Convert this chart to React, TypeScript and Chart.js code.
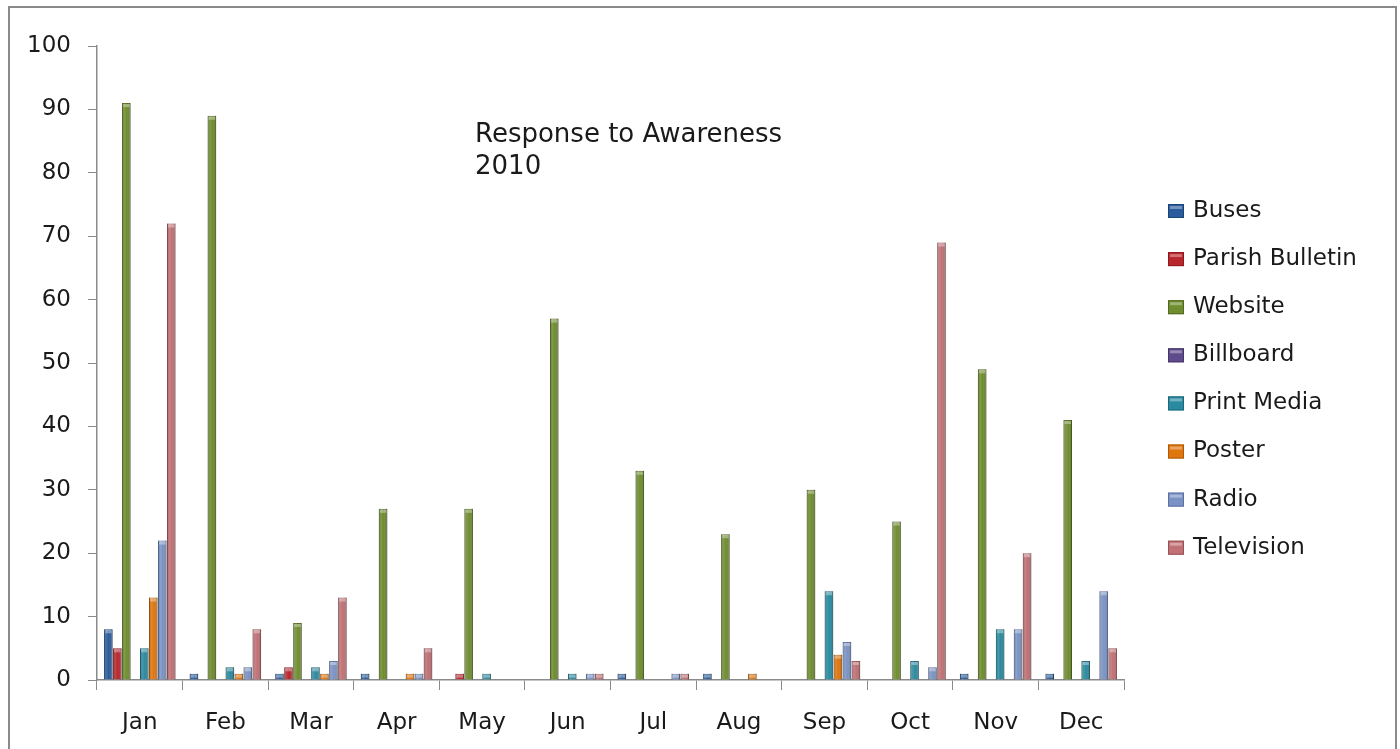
import React, { useEffect, useRef } from "react";
import { Chart, registerables } from "chart.js";

Chart.register(...registerables);

const months = ["Jan", "Feb", "Mar", "Apr", "May", "Jun", "Jul", "Aug", "Sep", "Oct", "Nov", "Dec"];
const seriesNames = ["Buses", "Parish Bulletin", "Website", "Billboard", "Print Media", "Poster", "Radio", "Television"];
const buses = [8, 1, 1, 1, 0, 0, 1, 1, 0, 0, 1, 1];
const parishBulletin = [5, 0, 2, 0, 1, 0, 0, 0, 0, 0, 0, 0];
const website = [91, 89, 9, 27, 27, 57, 33, 23, 30, 25, 49, 41];
const billboard = [0, 0, 0, 0, 0, 0, 0, 0, 0, 0, 0, 0];
const printMedia = [5, 2, 2, 0, 1, 1, 0, 0, 14, 3, 8, 3];
const poster = [13, 1, 1, 1, 0, 0, 0, 1, 4, 0, 0, 0];
const radio = [22, 2, 3, 1, 0, 1, 1, 0, 6, 2, 8, 14];
const television = [72, 8, 13, 5, 0, 1, 1, 0, 3, 69, 20, 5];
const seriesColors = ["#2a5b9c", "#b9262c", "#6f8d2e", "#5f4a8b", "#2a8ba0", "#e0760e", "#7b93c4", "#c07175"];
const seriesBorders = ["#1c4478", "#8e1a1f", "#536b20", "#46356a", "#1d6878", "#b05a08", "#5a72a3", "#9a5155"];
const titleLines = ["Response to Awareness", "2010"];
const yMin = 0;
const yMax = 100;
const yStep = 10;

const FONT = "'DejaVu Sans', sans-serif";

const framePlugin = {
  id: "frame",
  beforeDraw(chart: any) {
    const { ctx, height } = chart;
    ctx.save();
    ctx.fillStyle = "#ffffff";
    ctx.fillRect(0, 0, chart.width, height);
    ctx.strokeStyle = "#8a8a8a";
    ctx.lineWidth = 2;
    ctx.strokeRect(9, 7, 1387, height + 10);
    ctx.restore();
  },
};

const barShadePlugin = {
  id: "barShade",
  afterDatasetsDraw(chart: any) {
    const { ctx } = chart;
    ctx.save();
    chart.data.datasets.forEach((ds: any, di: number) => {
      const meta = chart.getDatasetMeta(di);
      meta.data.forEach((bar: any) => {
        const { x, y, base, width } = bar.getProps(["x", "y", "base", "width"], true);
        const h = base - y;
        if (h <= 0.5) return;
        const left = x - width / 2;
        const g = ctx.createLinearGradient(left, 0, left + width, 0);
        g.addColorStop(0, "rgba(0,0,0,0.25)");
        g.addColorStop(0.3, "rgba(255,255,255,0.12)");
        g.addColorStop(0.55, "rgba(255,255,255,0.0)");
        g.addColorStop(1, "rgba(0,0,0,0.3)");
        ctx.fillStyle = g;
        ctx.fillRect(left, y, width, h);
        ctx.fillStyle = "rgba(255,255,255,0.35)";
        ctx.fillRect(left + 1, y + 1, width - 2, Math.min(3, h - 1));
      });
    });
    ctx.restore();
  },
};

const titlePlugin = {
  id: "innerTitle",
  afterDraw(chart: any) {
    const { ctx } = chart;
    ctx.save();
    ctx.fillStyle = "#1a1a1a";
    ctx.font = `26px ${FONT}`;
    ctx.textAlign = "left";
    ctx.textBaseline = "alphabetic";
    titleLines.forEach((line, i) => {
      ctx.fillText(line, 475, 142 + i * 32);
    });
    ctx.restore();
  },
};

const legendPlugin = {
  id: "sideLegend",
  afterDraw(chart: any) {
    const { ctx } = chart;
    ctx.save();
    ctx.font = `23px ${FONT}`;
    ctx.textAlign = "left";
    ctx.textBaseline = "middle";
    chart.data.datasets.forEach((ds: any, i: number) => {
      const cy = 211 + i * 48.1;
      ctx.fillStyle = ds.backgroundColor;
      ctx.fillRect(1168, cy - 7, 16, 14);
      ctx.strokeStyle = ds.borderColor;
      ctx.lineWidth = 1;
      ctx.strokeRect(1168.5, cy - 6.5, 15, 13);
      ctx.fillStyle = "rgba(255,255,255,0.35)";
      ctx.fillRect(1170, cy - 5, 12, 3);
      ctx.fillStyle = "#1a1a1a";
      ctx.fillText(ds.label, 1193, cy);
    });
    ctx.restore();
  },
};

export default function App() {
  const canvasRef = useRef<HTMLCanvasElement | null>(null);

  useEffect(() => {
    if (!canvasRef.current) return;
    const seriesData = [buses, parishBulletin, website, billboard, printMedia, poster, radio, television];
    const chart = new Chart(canvasRef.current, {
      type: "bar",
      data: {
        labels: months,
        datasets: seriesNames.map((name, i) => ({
          label: name,
          data: seriesData[i],
          backgroundColor: seriesColors[i],
          borderColor: seriesBorders[i],
          borderWidth: 1,
          barPercentage: 0.95,
          categoryPercentage: 0.84,
        })),
      },
      options: {
        animation: false,
        responsive: false,
        maintainAspectRatio: false,
        layout: { padding: { top: 46, left: 0, right: 276, bottom: 0 } },
        plugins: {
          legend: { display: false },
          tooltip: { enabled: false },
          title: { display: false },
        },
        scales: {
          x: {
            offset: true,
            grid: {
              offset: true,
              drawOnChartArea: false,
              drawTicks: true,
              tickLength: 10,
              color: "#8a8a8a",
            },
            border: { display: true, color: "#8a8a8a", width: 1.5 },
            ticks: {
              color: "#1a1a1a",
              font: { family: FONT, size: 23 },
              padding: 19,
              maxRotation: 0,
            },
            afterFit(scale: any) {
              scale.height = 69;
            },
          },
          y: {
            min: yMin,
            max: yMax,
            grid: {
              drawOnChartArea: false,
              drawTicks: true,
              tickLength: 9,
              color: "#8a8a8a",
            },
            border: { display: true, color: "#8a8a8a", width: 1.5 },
            ticks: {
              stepSize: yStep,
              color: "#1a1a1a",
              font: { family: FONT, size: 23 },
              padding: 17,
            },
            afterFit(scale: any) {
              scale.width = 97;
            },
          },
        },
      },
      plugins: [framePlugin, barShadePlugin, titlePlugin, legendPlugin],
    });
    return () => chart.destroy();
  }, []);

  return (
    <div style={{ position: "fixed", left: 0, top: 0, width: 1400, height: 749 }}>
      <canvas ref={canvasRef} width={1400} height={749} style={{ width: 1400, height: 749, display: "block" }} />
    </div>
  );
}
